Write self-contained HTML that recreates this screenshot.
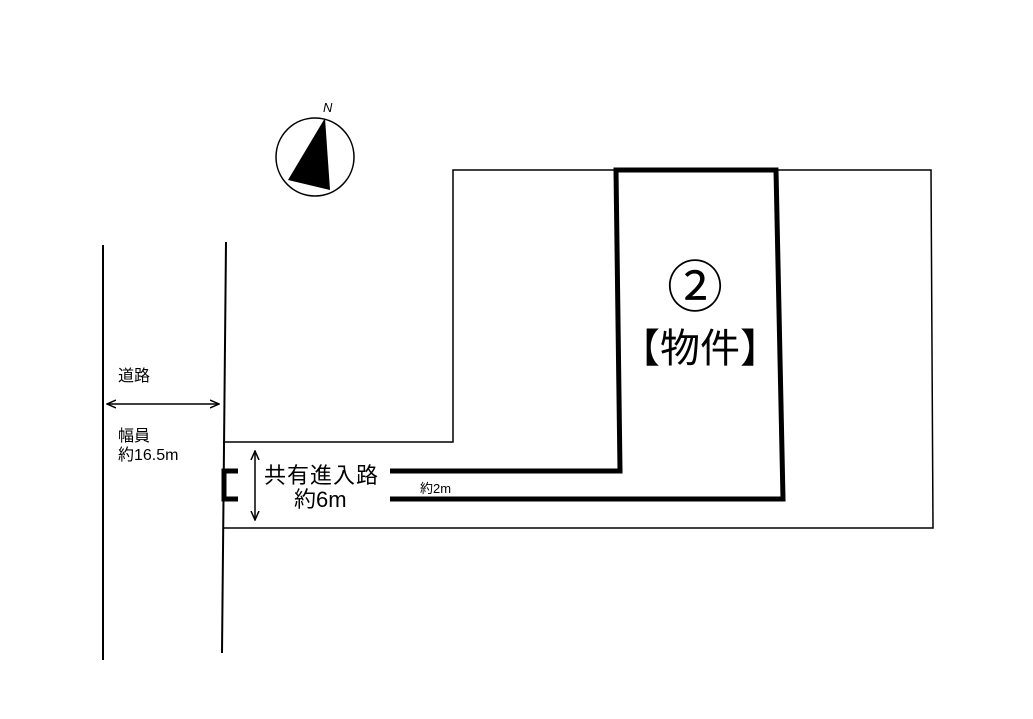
<!DOCTYPE html>
<html><head><meta charset="utf-8"><style>
body{margin:0;background:#fff;width:1033px;height:719px;overflow:hidden}
svg{display:block}
text{font-family:"Liberation Sans","Noto Sans CJK JP",sans-serif;fill:#000}
</style></head><body>
<svg width="1033" height="719" viewBox="0 0 1033 719">
<defs><marker id="a" markerWidth="10" markerHeight="10" refX="9" refY="5" orient="auto-start-reverse" markerUnits="userSpaceOnUse"><path d="M0,1 L9,5 L0,9" fill="none" stroke="#000" stroke-width="1.5"/></marker></defs>
<g stroke="#000" fill="none">
<line x1="103" y1="245" x2="103" y2="660" stroke-width="2"/>
<line x1="226" y1="242" x2="222" y2="653" stroke-width="2"/>
<polyline points="223,442 453,442 453,170 931,170 933,528 223,528" stroke-width="1.5"/>
<polyline points="390,471 620,471 616,170 776,170 783,499 390,499" stroke-width="5"/>
<polyline points="238,471 224,471 224,499 238,499" stroke-width="5"/>
<line x1="107" y1="404" x2="219" y2="404" stroke-width="1.5" marker-start="url(#a)" marker-end="url(#a)"/>
<line x1="255" y1="451" x2="255" y2="520" stroke-width="1.5" marker-start="url(#a)" marker-end="url(#a)"/>
<circle cx="315" cy="157" r="39" stroke-width="1.5"/>
</g>
<polygon points="325,118 288,180 330,190" fill="#000"/>
<text x="323" y="112" font-size="13" font-style="italic">N</text>
<text x="118" y="381" font-size="16">道路</text>
<text x="118" y="441" font-size="16">幅員</text>
<text x="118" y="460" font-size="16">約16.5m</text>
<text x="264" y="483" font-size="22" letter-spacing="1">共有進入路</text>
<text x="294" y="507" font-size="22">約6m</text>
<text x="420" y="493" font-size="13">約2m</text>
<text x="695" y="307" font-size="56" text-anchor="middle">②</text>
<text x="700" y="362" font-size="40" text-anchor="middle">【物件】</text>
</svg>
</body></html>
